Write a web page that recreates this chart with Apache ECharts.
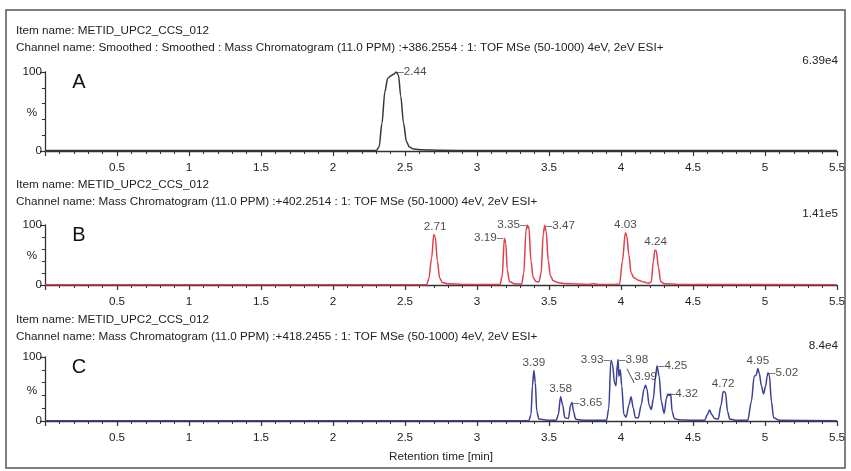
<!DOCTYPE html>
<html>
<head>
<meta charset="utf-8">
<script src="https://cdn.jsdelivr.net/npm/echarts@6/dist/echarts.min.js"></script>
<style>
html,body{margin:0;padding:0;background:#fff;}
#c{width:851px;height:471px;}
</style>
</head>
<body>
<div id="c"></div>
<script>
// ---------- data ----------
const itemName = 'Item name: METID_UPC2_CCS_012';
const channelA = 'Channel name: Smoothed : Smoothed : Mass Chromatogram (11.0 PPM) :+386.2554 : 1: TOF MSe (50-1000) 4eV, 2eV ESI+';
const channelB = 'Channel name: Mass Chromatogram (11.0 PPM) :+402.2514 : 1: TOF MSe (50-1000) 4eV, 2eV ESI+';
const channelC = 'Channel name: Mass Chromatogram (11.0 PPM) :+418.2455 : 1: TOF MSe (50-1000) 4eV, 2eV ESI+';
const panelLetters = ['A', 'B', 'C'];
const maxIntensity = ['6.39e4', '1.41e5', '8.4e4'];
const yAxisTitle = '%';
const xAxisTitle = 'Retention time [min]';

// Trace A (retention time min, relative intensity %)
const timeA = [0, 2.30, 2.32, 2.34, 2.36, 2.38, 2.40, 2.42, 2.44, 2.455, 2.47, 2.49, 2.51, 2.53, 2.56, 2.62, 2.75, 3.0, 5.5];
const intA  = [0.5, 0.5, 5, 35, 75, 92, 95, 97, 100, 96, 70, 35, 12, 5, 2.5, 1.5, 0.8, 0.5, 0.5];

// Trace B
const timeB = [0, 2.65, 2.665, 2.685, 2.70, 2.71, 2.725, 2.74, 2.76, 2.80, 2.90, 3.00, 3.16, 3.175, 3.19, 3.20, 3.21, 3.225, 3.26, 3.31,
  3.325, 3.34, 3.35, 3.355, 3.36, 3.375, 3.39, 3.41, 3.43, 3.445, 3.46, 3.47, 3.48, 3.495, 3.51, 3.53, 3.56, 3.60, 3.70, 3.78,
  3.81, 3.84, 3.95, 3.99, 4.01, 4.03, 4.04, 4.055, 4.07, 4.09, 4.12, 4.16, 4.19, 4.21, 4.225, 4.235, 4.245, 4.26, 4.275, 4.30,
  4.40, 4.60, 5.5];
const intB  = [0.5, 0.5, 10, 45, 84, 80, 40, 12, 4, 2, 1, 0.8, 0.8, 15, 78, 70, 25, 6, 2, 1.5,
  20, 90, 100, 95, 97, 40, 12, 6, 5, 20, 85, 99, 90, 40, 15, 7, 4, 2.5, 1.5, 1,
  2, 1, 0.8, 1.5, 40, 87, 82, 50, 20, 12, 8, 5, 3, 5, 40, 58, 57, 30, 6, 2,
  1, 0.7, 0.5];

// Trace C
const timeC = [0, 3.36, 3.375, 3.385, 3.395, 3.405, 3.415, 3.43, 3.50, 3.55, 3.565, 3.58, 3.595, 3.61, 3.635, 3.65, 3.66, 3.67, 3.685, 3.71,
  3.74, 3.90, 3.915, 3.93, 3.94, 3.955, 3.965, 3.975, 3.98, 3.985, 3.995, 4.005, 4.02, 4.035, 4.055, 4.07, 4.085, 4.10, 4.12, 4.14,
  4.16, 4.17, 4.18, 4.195, 4.21, 4.225, 4.24, 4.25, 4.265, 4.28, 4.30, 4.315, 4.325, 4.335, 4.345, 4.355, 4.37, 4.40, 4.45, 4.50,
  4.58, 4.60, 4.615, 4.63, 4.65, 4.675, 4.695, 4.71, 4.725, 4.74, 4.755, 4.80, 4.88, 4.905, 4.925, 4.94, 4.95, 4.96, 4.975, 4.99,
  5.005, 5.015, 5.02, 5.03, 5.045, 5.06, 5.10, 5.5];
const intC  = [0.5, 0.5, 10, 55, 79, 60, 15, 3, 1, 1, 10, 38, 25, 5, 4, 25, 29, 15, 3, 2,
  1, 1, 20, 95, 90, 60, 55, 90, 96, 70, 80, 55, 10, 6, 25, 38, 20, 5, 5, 25,
  50, 56, 50, 25, 18, 35, 70, 86, 70, 30, 12, 35, 42, 40, 42, 15, 4, 2, 1.5, 1,
  1, 10, 17, 10, 4, 3, 25, 46, 45, 15, 3, 1, 1, 30, 70, 72, 82, 75, 55, 42,
  55, 70, 75, 72, 30, 5, 1, 0.5];

// Peak annotations
const peakTimeA = [2.44];
const peakIntA  = [100];
const peakLabA  = ['2.44'];

const peakTimeB = [2.71, 3.19, 3.35, 3.47, 4.03, 4.24];
const peakIntB  = [84, 78, 100, 99, 87, 58];
const peakLabB  = ['2.71', '3.19', '3.35', '3.47', '4.03', '4.24'];

const peakTimeC = [3.395, 3.58, 3.66, 3.93, 3.98, 3.995, 4.25, 4.325, 4.71, 4.95, 5.02];
const peakIntC  = [79, 38, 29, 95, 96, 80, 86, 42, 46, 82, 75];
const peakLabC  = ['3.39', '3.58', '3.65', '3.93', '3.98', '3.99', '4.25', '4.32', '4.72', '4.95', '5.02'];

// ---------- layout / style ----------
const FONT = '"Liberation Sans", Arial, sans-serif';
const TXT = '#222';
const FS = 11.7;
const grids = [
  { left: 45, right: 14, top: 72, height: 79 },
  { left: 45, right: 14, top: 225, height: 60 },
  { left: 45, right: 14, top: 357, height: 64 }
];
const colors = ['#383838', '#e0404a', '#3b3f95'];
const placeA = ['right'];
const placeB = ['top', 'left', 'left', 'right', 'top', 'top'];
const placeC = ['top', 'top', 'right', 'left', 'right', 'leader', 'right', 'right', 'top', 'top', 'right'];

function zip(t, v) { return t.map((x, i) => [x, v[i]]); }

function labelData(times, ints, labs, places) {
  return times.map((t, i) => {
    const p = places[i];
    let lab;
    if (p === 'right') lab = { position: 'right', distance: 1, formatter: '\u2013' + labs[i] };
    else if (p === 'left') lab = { position: 'left', distance: 1, formatter: labs[i] + '\u2013' };
    else if (p === 'leader') lab = { position: 'right', distance: 1, offset: [6, 7], formatter: '\u2572' + labs[i] };
    else lab = { position: 'top', distance: 2, formatter: labs[i] };
    return { value: [t, ints[i]], label: lab };
  });
}

const xAxes = grids.map((g, i) => ({
  type: 'value', gridIndex: i, min: 0, max: 5.5, interval: 0.5,
  axisLine: { show: true, lineStyle: { color: '#333', width: 1.3 } },
  axisTick: { show: true, inside: false, length: 5, lineStyle: { color: '#333', width: 1.2 } },
  minorTick: { show: true, splitNumber: 5, length: 3, lineStyle: { color: '#333', width: 1 } },
  splitLine: { show: false },
  axisLabel: {
    color: TXT, fontFamily: FONT, fontSize: FS, margin: 11,
    formatter: v => (v === 0 ? '' : String(v))
  },
  name: i === 2 ? xAxisTitle : '',
  nameLocation: 'middle', nameGap: 30,
  nameTextStyle: { color: TXT, fontFamily: FONT, fontSize: FS }
}));

const yAxes = grids.map((g, i) => ({
  type: 'value', gridIndex: i, min: 0, max: 100, interval: 100,
  axisLine: { show: true, lineStyle: { color: '#333', width: 1.3 } },
  axisTick: { show: true, length: 5, lineStyle: { color: '#333', width: 1.2 } },
  minorTick: { show: true, splitNumber: 5, length: 3, lineStyle: { color: '#333', width: 1 } },
  splitLine: { show: false },
  axisLabel: { color: TXT, fontFamily: FONT, fontSize: FS, margin: 3 }
}));

const traces = [zip(timeA, intA), zip(timeB, intB), zip(timeC, intC)];
const labels = [
  labelData(peakTimeA, peakIntA, peakLabA, placeA),
  labelData(peakTimeB, peakIntB, peakLabB, placeB),
  labelData(peakTimeC, peakIntC, peakLabC, placeC)
];

const series = [];
traces.forEach((d, i) => {
  series.push({
    type: 'line', xAxisIndex: i, yAxisIndex: i, data: d, showSymbol: false,
    symbol: 'none', silent: true, animation: false, z: 3,
    smooth: 0.3, smoothMonotone: 'x',
    lineStyle: { color: colors[i], width: 1.5 }
  });
  series.push({
    type: 'scatter', xAxisIndex: i, yAxisIndex: i, data: labels[i], symbolSize: 0,
    silent: true, animation: false, z: 4,
    label: { show: true, color: TXT, fontFamily: FONT, fontSize: FS }
  });
});

const headerY = [[31, 48], [185, 202], [320, 337]];
const channels = [channelA, channelB, channelC];
const graphics = [
  { type: 'rect', shape: { x: 6, y: 10, width: 839, height: 458 },
    style: { fill: 'none', stroke: '#555', lineWidth: 1.5 }, z: 10 }
];
grids.forEach((g, i) => {
  graphics.push({ type: 'text', x: 16, y: headerY[i][0],
    style: { text: itemName, font: FS + 'px ' + FONT, fill: TXT, textVerticalAlign: 'middle', verticalAlign: 'middle' } });
  graphics.push({ type: 'text', x: 16, y: headerY[i][1],
    style: { text: channels[i], font: FS + 'px ' + FONT, fill: TXT, textVerticalAlign: 'middle', verticalAlign: 'middle' } });
  graphics.push({ type: 'text', x: 838, y: g.top - 11,
    style: { text: maxIntensity[i], font: FS + 'px ' + FONT, fill: TXT, textAlign: 'right', align: 'right', textVerticalAlign: 'middle', verticalAlign: 'middle' } });
  graphics.push({ type: 'text', x: 79, y: g.top + 10,
    style: { text: panelLetters[i], font: '20px ' + FONT, fill: '#111', textAlign: 'center', align: 'center', textVerticalAlign: 'middle', verticalAlign: 'middle' } });
  graphics.push({ type: 'text', x: 32, y: g.top + g.height * 0.52,
    style: { text: yAxisTitle, font: FS + 'px ' + FONT, fill: TXT, textAlign: 'center', align: 'center', textVerticalAlign: 'middle', verticalAlign: 'middle' } });
});

const chart = echarts.init(document.getElementById('c'), null, { renderer: 'canvas' });
chart.setOption({
  animation: false,
  backgroundColor: '#fff',
  grid: grids,
  xAxis: xAxes,
  yAxis: yAxes,
  series: series,
  graphic: graphics
});
</script>
</body>
</html>
